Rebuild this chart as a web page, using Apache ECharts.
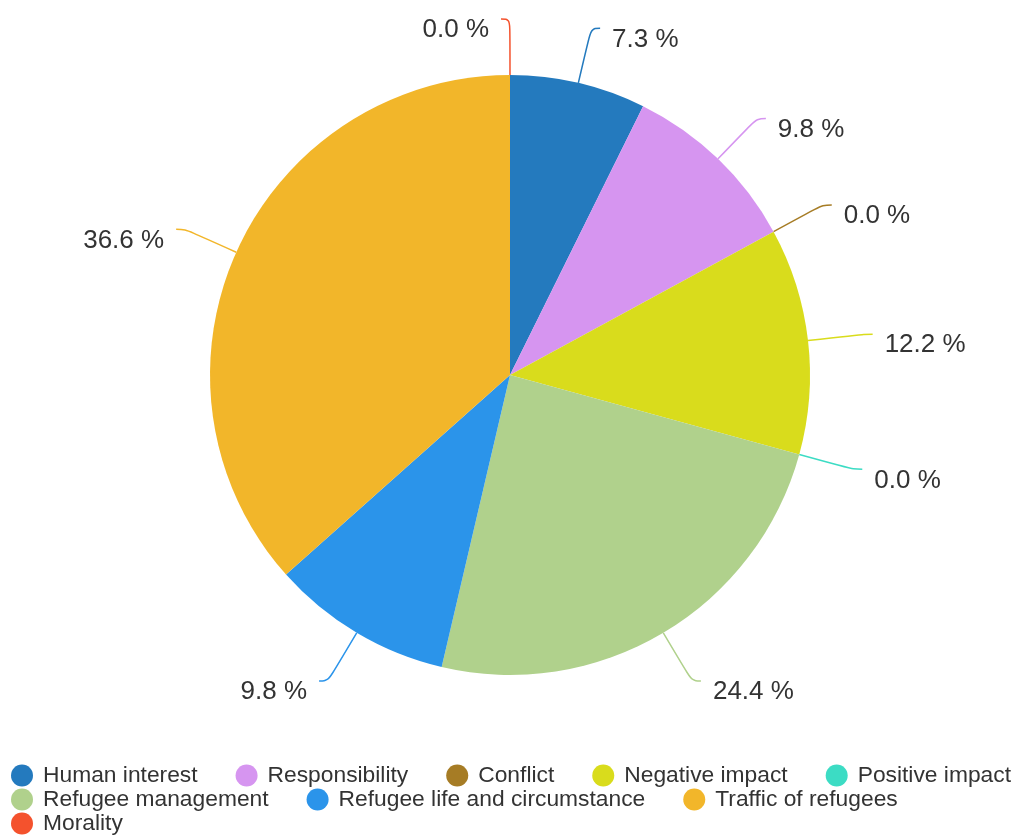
<!DOCTYPE html>
<html>
<head>
<meta charset="utf-8">
<script src="https://cdn.jsdelivr.net/npm/echarts@6/dist/echarts.min.js"></script>
<style>
  html, body { margin: 0; padding: 0; background: #ffffff; }
  #chart { width: 1011px; height: 835px; }
</style>
</head>
<body>
<div id="chart"></div>
<script>
// Frame categories and article counts (shown as percentages of the total)
const categories = [
  'Human interest', 'Responsibility', 'Conflict', 'Negative impact', 'Positive impact',
  'Refugee management', 'Refugee life and circumstance', 'Traffic of refugees', 'Morality'
];
const counts = [3, 4, 0, 5, 0, 10, 4, 15, 0];
const colors = [
  '#247abe', '#d695f0', '#a67c25', '#d9dc1c', '#3cdcc4',
  '#b0d18c', '#2b94ea', '#f2b62a', '#f4522d'
];
// Legend rows
const legendRows = [
  categories.slice(0, 5),
  categories.slice(5, 8),
  categories.slice(8)
];
const legendTops = [759, 783, 807];

const chart = echarts.init(document.getElementById('chart'), null, { renderer: 'canvas' });

const total = counts.reduce((a, b) => a + b, 0);

const legends = legendRows.map((row, i) => ({
  data: row,
  orient: 'horizontal',
  left: 6,
  top: legendTops[i],
  width: 1100,
  icon: 'circle',
  itemWidth: 32,
  itemHeight: 22,
  itemGap: 38,
  textStyle: {
    fontFamily: 'Liberation Sans, Arial, sans-serif',
    fontSize: 22.8,
    color: '#333333'
  }
}));

chart.setOption({
  animation: false,
  color: colors,
  legend: legends,
  series: [{
    type: 'pie',
    center: [510, 375],
    radius: [0, 300],
    startAngle: 90,
    clockwise: true,
    avoidLabelOverlap: false,
    data: categories.map((name, i) => ({ name, value: counts[i] })),
    label: {
      show: true,
      position: 'outside',
      // blank first line drops the value text just below the end of its leader line
      formatter: p => '\n' + (p.value / total * 100).toFixed(1) + ' %',
      fontFamily: 'Liberation Sans, Arial, sans-serif',
      fontSize: 26,
      lineHeight: 22,
      color: '#333333',
      distanceToLabelLine: 12
    },
    labelLine: {
      show: true,
      length: 56,
      length2: 9,
      smooth: 0.4,
      lineStyle: { width: 1.5 }
    },
    itemStyle: { borderWidth: 0 },
    emphasis: { disabled: true }
  }]
});
</script>
</body>
</html>
